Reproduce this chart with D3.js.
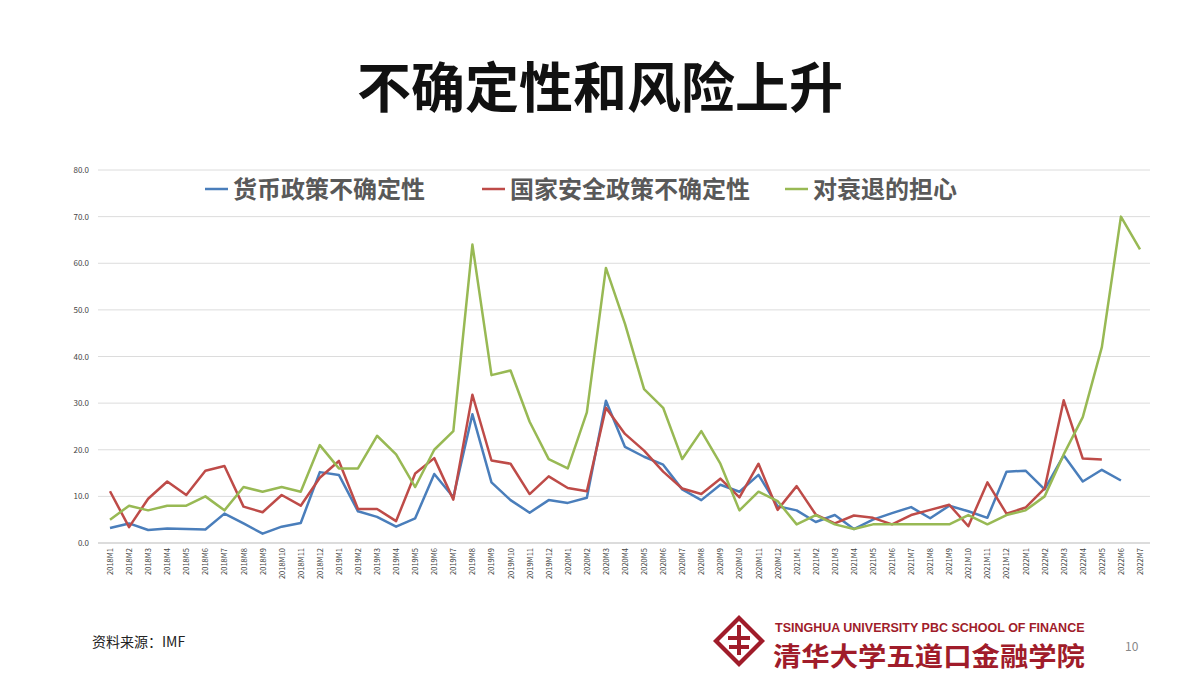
<!DOCTYPE html>
<html><head><meta charset="utf-8">
<script src="https://cdn.jsdelivr.net/npm/d3@7"></script>
<style>body{margin:0;background:#fff;}svg{display:block;font-family:"Noto Sans CJK SC","Noto Sans",sans-serif;}</style>
</head><body>
<svg id="c" width="1200" height="675"></svg>
<script>
const months = [];
for (let y = 2018; y <= 2022; y++) for (let m = 1; m <= 12; m++) { if (y === 2022 && m > 7) break; months.push(y + "M" + m); }
const monetary = [3.2,4.2,2.8,3.1,3.0,2.9,6.3,4.2,2.0,3.5,4.3,15.2,14.6,6.8,5.6,3.5,5.3,14.8,9.8,27.6,13.0,9.2,6.5,9.2,8.6,9.7,30.5,20.6,18.5,16.8,11.5,9.2,12.5,11.0,14.6,7.9,7.0,4.5,6.0,3.0,5.0,6.4,7.7,5.3,8.0,6.8,5.4,15.3,15.5,11.5,18.8,13.2,15.7,13.4,null];
const security = [11.1,3.4,9.5,13.2,10.3,15.5,16.5,7.8,6.6,10.3,8.0,14.0,17.6,7.3,7.3,4.7,14.9,18.2,9.3,31.8,17.7,17.0,10.5,14.3,11.8,11.1,29.0,23.4,19.8,15.3,11.7,10.5,13.8,9.8,17.0,7.1,12.2,6.1,4.2,5.9,5.4,4.0,6.0,7.1,8.2,3.6,13.0,6.3,7.6,11.7,30.6,18.1,17.9,null,null];
const recession = [5,8,7,8,8,10,7,12,11,12,11,21,16,16,23,19,12,20,24,64,36,37,26,18,16,28,59,47,33,29,18,24,17,7,11,9,4,6,4,3,4,4,4,4,4,6,4,6,7,10,19,27,42,70,63];
const yTicks = [0,10,20,30,40,50,60,70,80];
const seriesNames = ["货币政策不确定性","国家安全政策不确定性","对衰退的担心"];
const colors = ["#4a7ebb","#be4b48","#98b954"];
const series = [monetary, security, recession];

const svg = d3.select("#c");
const x = d3.scalePoint().domain(months).range([110, 1140]);
const y = d3.scaleLinear().domain([0, 80]).range([543, 170]);

svg.append("text").attr("x", 600).attr("y", 108).attr("text-anchor", "middle")
  .attr("font-size", 54).attr("font-weight", "bold").attr("fill", "#111").text("不确定性和风险上升");

svg.append("g").selectAll("line").data(yTicks).join("line")
  .attr("x1", 98).attr("x2", 1150).attr("y1", d => y(d)).attr("y2", d => y(d))
  .attr("stroke", d => d === 0 ? "#d0d0d0" : "#dcdcdc").attr("stroke-width", d => d === 0 ? 1.5 : 1);
svg.append("g").selectAll("text").data(yTicks).join("text")
  .attr("x", 89).attr("y", d => y(d) + 3).attr("text-anchor", "end")
  .attr("font-size", 8).attr("fill", "#444").text(d => d.toFixed(1));

svg.append("g").selectAll("text").data(months).join("text")
  .attr("transform", d => `translate(${x(d) + 3},548) rotate(-90)`)
  .attr("text-anchor", "end").attr("font-size", 7.5).attr("fill", "#444").text(d => d);

const line = d3.line().defined(d => d != null).x((d, i) => x(months[i])).y(d => y(d));
series.forEach((s, k) => {
  svg.append("path").datum(s).attr("d", line).attr("fill", "none")
    .attr("stroke", colors[k]).attr("stroke-width", 2.5).attr("stroke-linejoin", "round");
});

const legX = [205, 482, 785];
seriesNames.forEach((n, k) => {
  svg.append("line").attr("x1", legX[k]).attr("x2", legX[k] + 23).attr("y1", 189).attr("y2", 189)
    .attr("stroke", colors[k]).attr("stroke-width", 2.5);
  svg.append("text").attr("x", legX[k] + 28).attr("y", 198).attr("font-size", 24)
    .attr("font-weight", "bold").attr("fill", "#595959").text(n);
});

svg.append("text").attr("x", 92).attr("y", 647).attr("font-size", 14).attr("fill", "#222").text("资料来源：IMF");
svg.append("text").attr("x", 1125).attr("y", 651).attr("font-size", 12).attr("fill", "#888").text("10");

// logo
const lg = svg.append("g").attr("fill", "#a01c2a");
lg.append("path").attr("d", "M739,615 L765,641 L739,667 L713,641 Z");
lg.append("path").attr("d", "M739,621 L759,641 L739,661 L719,641 Z").attr("fill", "#fff");
lg.append("rect").attr("x", 737).attr("y", 625).attr("width", 4).attr("height", 30);
lg.append("rect").attr("x", 728).attr("y", 636).attr("width", 22).attr("height", 4);
lg.append("rect").attr("x", 729).attr("y", 645).attr("width", 20).attr("height", 4);
svg.append("text").attr("x", 775).attr("y", 632).attr("font-size", 12.5).attr("font-weight", "bold")
  .attr("fill", "#a01c2a").attr("font-family", "Liberation Sans, Arial").text("TSINGHUA UNIVERSITY PBC SCHOOL OF FINANCE");
svg.append("text").attr("x", 773).attr("y", 666).attr("font-size", 26).attr("font-weight", "bold")
  .attr("fill", "#a01c2a").attr("textLength", 312).attr("lengthAdjust", "spacingAndGlyphs").text("清华大学五道口金融学院");
</script>
</body></html>
